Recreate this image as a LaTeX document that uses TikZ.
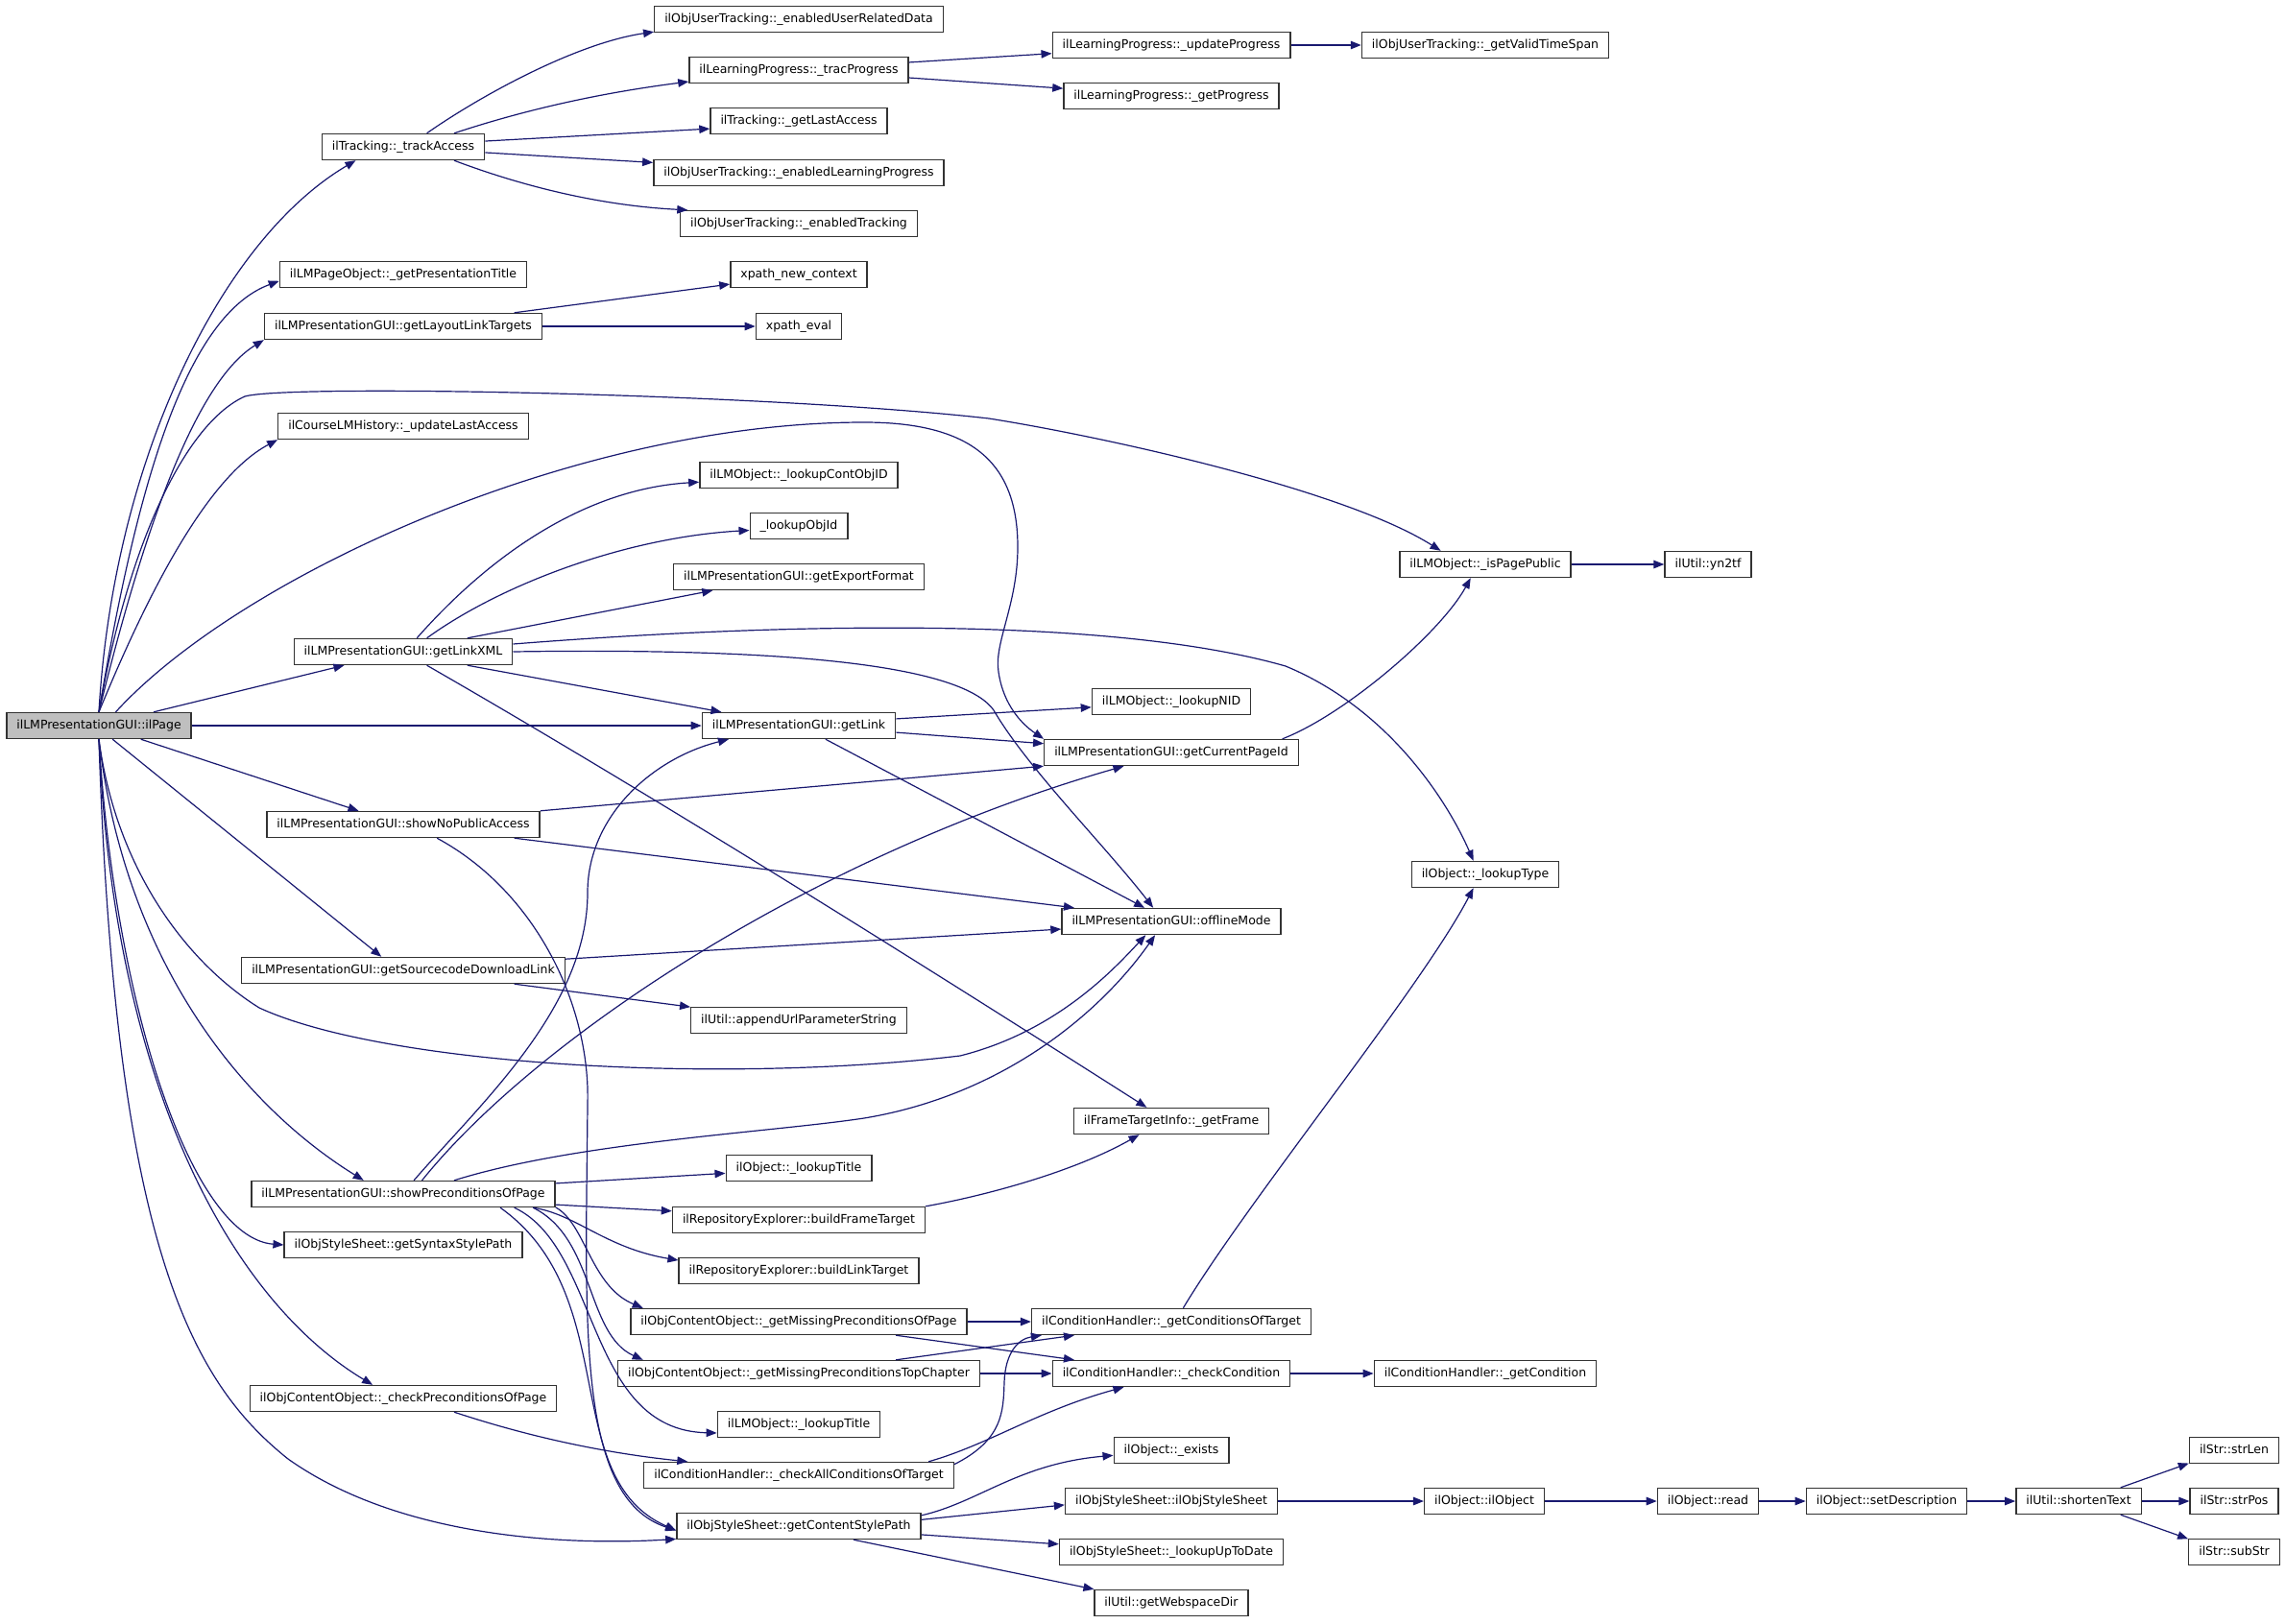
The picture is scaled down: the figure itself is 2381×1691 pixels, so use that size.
\documentclass[tikz,border=0pt]{standalone}
\usepackage{fontspec}
\setmainfont{DejaVu Sans}
\usepackage{tikz}
\usetikzlibrary{arrows.meta}

\definecolor{callblue}{HTML}{191970}
\definecolor{rootgray}{HTML}{BFBFBF}

\begin{document}
\begin{tikzpicture}[x=1pt, y=-1pt,
    fn/.style={draw=black!80, line width=1.4pt, fill=white, font=\fontsize{12.5}{15}\selectfont,
        inner xsep=10.5pt, inner ysep=0pt, minimum height=27pt, text height=9.6pt, text depth=3pt},
    call/.style={draw=callblue, line width=1.2pt, -{Triangle[length=11pt, width=8.5pt]}}]
    \useasboundingbox (0,0) rectangle (2381,1691);

    % caller
    \node[fn, fill=rootgray] (ilPage) at (103,756) {ilLMPresentationGUI::ilPage};

    % first column
    \node[fn] (trackAccess) at (420,153) {ilTracking::\_trackAccess};
    \node[fn] (presTitle) at (420,286) {ilLMPageObject::\_getPresentationTitle};
    \node[fn] (layoutTargets) at (420,340) {ilLMPresentationGUI::getLayoutLinkTargets};
    \node[fn] (updLastAccess) at (420,444) {ilCourseLMHistory::\_updateLastAccess};
    \node[fn] (linkXML) at (420,679) {ilLMPresentationGUI::getLinkXML};
    \node[fn] (noPublic) at (420,859) {ilLMPresentationGUI::showNoPublicAccess};
    \node[fn] (srcDownload) at (420,1011) {ilLMPresentationGUI::getSourcecodeDownloadLink};
    \node[fn] (showPrec) at (420,1244) {ilLMPresentationGUI::showPreconditionsOfPage};
    \node[fn] (syntaxPath) at (420,1297) {ilObjStyleSheet::getSyntaxStylePath};
    \node[fn] (checkPrec) at (420,1457) {ilObjContentObject::\_checkPreconditionsOfPage};

    % second column
    \node[fn] (userRelData) at (832,20) {ilObjUserTracking::\_enabledUserRelatedData};
    \node[fn] (tracProgress) at (832,73) {ilLearningProgress::\_tracProgress};
    \node[fn] (lastAccess) at (832,126) {ilTracking::\_getLastAccess};
    \node[fn] (enabledLP) at (832,180) {ilObjUserTracking::\_enabledLearningProgress};
    \node[fn] (enabledTrack) at (832,233) {ilObjUserTracking::\_enabledTracking};
    \node[fn] (xpathCtx) at (832,286) {xpath\_new\_context};
    \node[fn] (xpathEval) at (832,340) {xpath\_eval};
    \node[fn] (contObjID) at (832,495) {ilLMObject::\_lookupContObjID};
    \node[fn] (lookupObjId) at (832,548) {\_lookupObjId};
    \node[fn] (exportFormat) at (832,601) {ilLMPresentationGUI::getExportFormat};
    \node[fn] (getLink) at (832,756) {ilLMPresentationGUI::getLink};
    \node[fn] (appendUrl) at (832,1063) {ilUtil::appendUrlParameterString};
    \node[fn] (objTitle) at (832,1217) {ilObject::\_lookupTitle};
    \node[fn] (buildFrame) at (832,1271) {ilRepositoryExplorer::buildFrameTarget};
    \node[fn] (buildLink) at (832,1324) {ilRepositoryExplorer::buildLinkTarget};
    \node[fn] (missPage) at (832,1377) {ilObjContentObject::\_getMissingPreconditionsOfPage};
    \node[fn] (missChapter) at (832,1431) {ilObjContentObject::\_getMissingPreconditionsTopChapter};
    \node[fn] (lmTitle) at (832,1484) {ilLMObject::\_lookupTitle};
    \node[fn] (checkAll) at (832,1537) {ilConditionHandler::\_checkAllConditionsOfTarget};
    \node[fn] (contentStyle) at (832,1590) {ilObjStyleSheet::getContentStylePath};

    % third column
    \node[fn] (updProgress) at (1220,47) {ilLearningProgress::\_updateProgress};
    \node[fn] (getProgress) at (1220,100) {ilLearningProgress::\_getProgress};
    \node[fn] (lookupNID) at (1220,731) {ilLMObject::\_lookupNID};
    \node[fn] (curPageId) at (1220,784) {ilLMPresentationGUI::getCurrentPageId};
    \node[fn] (offline) at (1220,960) {ilLMPresentationGUI::offlineMode};
    \node[fn] (getFrame) at (1220,1168) {ilFrameTargetInfo::\_getFrame};
    \node[fn] (condTarget) at (1220,1377) {ilConditionHandler::\_getConditionsOfTarget};
    \node[fn] (checkCond) at (1220,1431) {ilConditionHandler::\_checkCondition};
    \node[fn] (objExists) at (1220,1511) {ilObject::\_exists};
    \node[fn] (styleSheet) at (1220,1564) {ilObjStyleSheet::ilObjStyleSheet};
    \node[fn] (upToDate) at (1220,1617) {ilObjStyleSheet::\_lookupUpToDate};
    \node[fn] (webspaceDir) at (1220,1670) {ilUtil::getWebspaceDir};

    % right side
    \node[fn] (validSpan) at (1547,47) {ilObjUserTracking::\_getValidTimeSpan};
    \node[fn] (isPublic) at (1547,588) {ilLMObject::\_isPagePublic};
    \node[fn] (lookupType) at (1547,911) {ilObject::\_lookupType};
    \node[fn] (getCond) at (1547,1431) {ilConditionHandler::\_getCondition};
    \node[fn] (ilObj) at (1546,1564) {ilObject::ilObject};
    \node[fn] (yntf) at (1779,588) {ilUtil::yn2tf};
    \node[fn] (objRead) at (1779,1564) {ilObject::read};
    \node[fn] (setDescr) at (1965,1564) {ilObject::setDescription};
    \node[fn] (shorten) at (2165,1564) {ilUtil::shortenText};
    \node[fn] (strLen) at (2327,1511) {ilStr::strLen};
    \node[fn] (strPos) at (2327,1564) {ilStr::strPos};
    \node[fn] (subStr) at (2327,1617) {ilStr::subStr};

    % calls from ilPage
    \draw[call] (ilPage.north) .. controls (118,480) and (230,250) .. (trackAccess.196);
    \draw[call] (ilPage.north) .. controls (140,520) and (190,330) .. (presTitle.183);
    \draw[call] (ilPage.north) .. controls (145,570) and (200,400) .. (layoutTargets.south west);
    \draw[call] (ilPage.north) .. controls (135,560) and (195,440) .. (255,413)
        .. controls (300,400) and (800,410) .. (1030,436)
        .. controls (1150,455) and (1400,510) .. (isPublic.163);
    \draw[call] (ilPage.north) .. controls (145,640) and (210,500) .. (updLastAccess.south west);
    \draw[call] (ilPage.39) .. controls (250,600) and (600,440) .. (900,440)
        .. controls (1010,440) and (1060,480) .. (1060,570)
        .. controls (1060,630) and (1035,670) .. (1040,700)
        .. controls (1045,735) and (1065,755) .. (curPageId.north west);
    \draw[call] (ilPage.14) -- (linkXML.193);
    \draw[call] (ilPage.east) -- (getLink.west);
    \draw[call] (ilPage.342) -- (noPublic.163);
    \draw[call] (ilPage.315) -- (srcDownload.148);
    \draw[call] (ilPage.south) .. controls (120,900) and (190,1000) .. (270,1050)
        .. controls (400,1110) and (750,1130) .. (1000,1100)
        .. controls (1100,1075) and (1160,1010) .. (offline.208);
    \draw[call] (ilPage.south) .. controls (130,1000) and (250,1150) .. (showPrec.161);
    \draw[call] (ilPage.south) .. controls (120,1050) and (200,1290) .. (syntaxPath.west);
    \draw[call] (ilPage.south) .. controls (120,1150) and (250,1360) .. (checkPrec.156);
    \draw[call] (ilPage.south) .. controls (120,1300) and (200,1440) .. (300,1520)
        .. controls (420,1605) and (600,1610) .. (contentStyle.186);

    % tracking
    \draw[call] (trackAccess.30) .. controls (500,100) and (600,45) .. (userRelData.185);
    \draw[call] (trackAccess.15) .. controls (560,110) and (640,95) .. (tracProgress.186);
    \draw[call] (trackAccess.4) -- (lastAccess.185);
    \draw[call] (trackAccess.356) -- (enabledLP.176);
    \draw[call] (trackAccess.345) .. controls (560,200) and (640,215) .. (enabledTrack.173);
    \draw[call] (tracProgress.4) -- (updProgress.184);
    \draw[call] (tracProgress.356) -- (getProgress.176);
    \draw[call] (updProgress.east) -- (validSpan.west);

    % layout targets
    \draw[call] (layoutTargets.7) -- (xpathCtx.188);
    \draw[call] (layoutTargets.east) -- (xpathEval.west);

    % link xml
    \draw[call] (linkXML.45) .. controls (500,590) and (600,510) .. (contObjID.184);
    \draw[call] (linkXML.30) .. controls (520,610) and (650,560) .. (lookupObjId.185);
    \draw[call] (linkXML.12) -- (exportFormat.189);
    \draw[call] (linkXML.4) .. controls (800,650) and (1150,640) .. (1339,694)
        .. controls (1450,740) and (1510,840) .. (lookupType.131);
    \draw[call] (linkXML.east) .. controls (800,675) and (1000,690) .. (1035,740)
        .. controls (1070,800) and (1150,880) .. (offline.143);
    \draw[call] (linkXML.348) -- (getLink.170);
    \draw[call] (linkXML.330) .. controls (700,840) and (1000,1030) .. (getFrame.151);

    % get link
    \draw[call] (getLink.4) -- (lookupNID.184);
    \draw[call] (getLink.356) -- (curPageId.176);
    \draw[call] (getLink.333) -- (offline.153);
    \draw[call] (curPageId.7) .. controls (1400,745) and (1500,660) .. (isPublic.223);
    \draw[call] (isPublic.east) -- (yntf.west);

    % no public access / download link
    \draw[call] (noPublic.north east) -- (curPageId.south west);
    \draw[call] (noPublic.353) -- (offline.172);
    \draw[call] (noPublic.338) .. controls (560,930) and (615,1050) .. (612,1150)
        .. controls (610,1380) and (600,1560) .. (contentStyle.182);
    \draw[call] (srcDownload.4) -- (offline.184);
    \draw[call] (srcDownload.353) -- (appendUrl.173);

    % preconditions
    \draw[call] (showPrec.52) .. controls (500,1150) and (612,1050) .. (612,930)
        .. controls (612,850) and (680,790) .. (getLink.191);
    \draw[call] (showPrec.36) .. controls (560,1080) and (850,890) .. (curPageId.196);
    \draw[call] (showPrec.15) .. controls (600,1190) and (800,1180) .. (900,1165)
        .. controls (1050,1140) and (1150,1050) .. (offline.220);
    \draw[call] (showPrec.4) -- (objTitle.184);
    \draw[call] (showPrec.356) -- (buildFrame.176);
    \draw[call] (showPrec.354) .. controls (600,1265) and (630,1300) .. (buildLink.175);
    \draw[call] (showPrec.355) .. controls (610,1275) and (615,1340) .. (missPage.175);
    \draw[call] (showPrec.354) .. controls (620,1290) and (610,1390) .. (missChapter.175);
    \draw[call] (showPrec.353) .. controls (625,1300) and (610,1490) .. (lmTitle.186);
    \draw[call] (showPrec.352) .. controls (650,1350) and (580,1540) .. (contentStyle.182);
    \draw[call] (checkPrec.345) .. controls (560,1500) and (640,1515) .. (checkAll.173);
    \draw[call] (buildFrame.north east) .. controls (1030,1245) and (1120,1220) .. (getFrame.203);

    % conditions
    \draw[call] (missPage.east) -- (condTarget.west);
    \draw[call] (missPage.352) -- (checkCond.172);
    \draw[call] (missChapter.8) -- (condTarget.188);
    \draw[call] (missChapter.east) -- (checkCond.west);
    \draw[call] (checkAll.4) .. controls (1045,1500) and (1045,1470) .. (1046,1440)
        .. controls (1047,1410) and (1060,1395) .. (condTarget.186);
    \draw[call] (checkAll.6) .. controls (1030,1505) and (1080,1470) .. (checkCond.196);
    \draw[call] (condTarget.49) .. controls (1300,1250) and (1480,1030) .. (lookupType.229);
    \draw[call] (checkCond.east) -- (getCond.west);

    % style sheet
    \draw[call] (contentStyle.5) .. controls (1020,1565) and (1060,1525) .. (objExists.185);
    \draw[call] (contentStyle.3) -- (styleSheet.182);
    \draw[call] (contentStyle.356) -- (upToDate.176);
    \draw[call] (contentStyle.346) -- (webspaceDir.170);
    \draw[call] (styleSheet.east) -- (ilObj.west);
    \draw[call] (ilObj.east) -- (objRead.west);
    \draw[call] (objRead.east) -- (setDescr.west);
    \draw[call] (setDescr.east) -- (shorten.west);
    \draw[call] (shorten.18) -- (strLen.196);
    \draw[call] (shorten.east) -- (strPos.west);
    \draw[call] (shorten.342) -- (subStr.164);
\end{tikzpicture}
\end{document}
